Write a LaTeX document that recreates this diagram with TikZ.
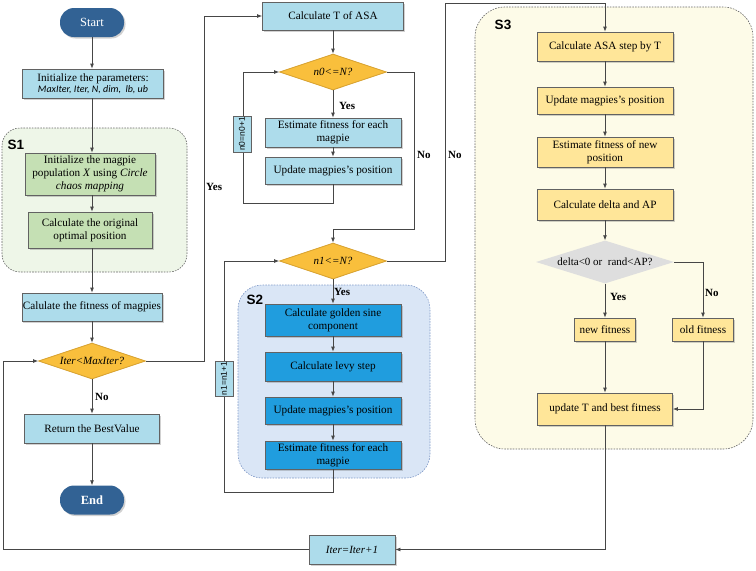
\documentclass[tikz,border=0pt]{standalone}
\usepackage{fontspec}
\setmainfont{Liberation Serif}
\setsansfont{Liberation Sans}
\newfontfamily\carl{Carlito}
\usetikzlibrary{arrows.meta,shapes.geometric,shadows}
\definecolor{termblue}{RGB}{50,98,148}
\definecolor{lblue}{RGB}{173,220,235}
\definecolor{lgreen}{RGB}{197,224,180}
\definecolor{sonebg}{RGB}{238,246,232}
\definecolor{orangef}{RGB}{249,191,60}
\definecolor{oranged}{RGB}{214,160,45}
\definecolor{stwobg}{RGB}{218,230,246}
\definecolor{stwod}{RGB}{130,155,200}
\definecolor{bblue}{RGB}{32,157,222}
\definecolor{yellowf}{RGB}{255,230,153}
\definecolor{sthreebg}{RGB}{253,251,232}
\definecolor{grayf}{RGB}{222,222,222}
\definecolor{linec}{RGB}{70,70,70}
\tikzset{
  shad/.style={drop shadow={shadow xshift=1.5pt,shadow yshift=-1.5pt,opacity=0.3,fill=black!60}},
  box/.style={rectangle,draw=linec!85,line width=0.8pt,align=center,inner sep=1pt,shad,
    font=\fontsize{11.2}{13}\selectfont},
  lbbox/.style={box,fill=lblue},
  grbox/.style={box,fill=lgreen},
  bbbox/.style={box,fill=bblue},
  ylbox/.style={box,fill=yellowf},
  term/.style={rectangle,rounded corners=14pt,fill=termblue,text=white,minimum width=64pt,
    minimum height=29pt,shad,font=\fontsize{12.5}{14}\selectfont},
  decis/.style={diamond,aspect=3,fill=orangef,draw=oranged,line width=0.8pt,inner sep=1pt,
    font=\fontsize{11}{12}\selectfont\itshape,minimum width=107pt,minimum height=36pt},
  region/.style={rounded corners=#1,dash pattern=on 1.6pt off 1.2pt,line width=0.6pt},
  arr/.style={draw=linec,line width=0.8pt,-{Latex[length=5pt,width=4pt]}},
  lnk/.style={draw=linec,line width=0.8pt},
  lab/.style={font=\fontsize{11}{12}\selectfont\bfseries,anchor=west,inner sep=0pt},
  slab/.style={font=\fontsize{13.5}{14}\selectfont\sffamily\bfseries,inner sep=0pt},
  cnt/.style={rectangle,draw=linec!85,line width=0.8pt,fill=lblue,rotate=90,inner sep=0.5pt,
    font=\fontsize{8.5}{9}\selectfont\sffamily}
}
\begin{document}
\begin{tikzpicture}[x=1pt,y=-1pt]
\useasboundingbox (0,0) rectangle (756,571);
% regions
\path[region=18pt,draw=black!60,fill=sonebg] (2,128) rectangle (187,272);
\path[region=24pt,draw=stwod,fill=stwobg] (238,285) rectangle (430,478);
\path[region=30pt,draw=black!60,fill=sthreebg] (475,7) rectangle (753,449);
\node[slab] (s1) at (16,145) {S1};
\node[slab] (s2) at (255,300) {S2};
\node[slab] (s3) at (503,25) {S3};
% left column
\node[term] (start) at (92,22.5) {Start};
\node[lbbox,minimum width=141pt,minimum height=29pt] (init) at (93,83.5)
  {Initialize the parameters:\\[-1.5pt]{\carl\itshape\fontsize{10}{11}\selectfont MaxIter, Iter, N, dim,~~lb, ub}};
\node[grbox,minimum width=130pt,minimum height=42pt] (magpie) at (90,174)
  {Initialize the magpie\\population \textit{X} using \textit{Circle}\\\textit{chaos mapping}};
\node[grbox,minimum width=124pt,minimum height=36pt] (orig) at (90,230)
  {Calculate the original\\optimal position};
\node[lbbox,minimum width=140pt,minimum height=28pt] (fit) at (92,307) {Calulate the fitness of magpies};
\node[decis] (diter) at (92,361) {Iter<MaxIter?};
\node[lbbox,minimum width=135pt,minimum height=29pt] (ret) at (92,428.5) {Return the BestValue};
\node[term,font=\fontsize{12.5}{14}\selectfont\bfseries] (end) at (92,500) {End};
\node[lbbox,minimum width=86pt,minimum height=29pt,font=\fontsize{11}{12}\selectfont\itshape] (iterb) at (352,549.5) {Iter=Iter+1};
% middle column
\node[lbbox,minimum width=141pt,minimum height=28pt] (calcT) at (333,16) {Calculate T of ASA};
\node[decis] (dn0) at (333,72) {n0<=N?};
\node[lbbox,minimum width=136pt,minimum height=29pt] (est0) at (333,132.5) {Estimate fitness for each\\magpie};
\node[lbbox,minimum width=136pt,minimum height=27pt] (upd0) at (333,170.5) {Update magpies's position};
\node[decis] (dn1) at (333,261) {n1<=N?};
\node[bbbox,minimum width=136pt,minimum height=32pt] (gs) at (333,320) {Calculate golden sine\\component};
\node[bbbox,minimum width=136pt,minimum height=29pt] (levy) at (333,366.5) {Calculate levy step};
\node[bbbox,minimum width=136pt,minimum height=27pt] (upd1) at (333,410.5) {Update magpies's position};
\node[bbbox,minimum width=136pt,minimum height=28pt] (est1) at (333,455) {Estimate fitness for each\\magpie};
% right column
\node[ylbox,minimum width=136pt,minimum height=29pt] (asa) at (605,46.5) {Calculate ASA step by T};
\node[ylbox,minimum width=136pt,minimum height=27pt] (upd2) at (605,100.5) {Update magpies's position};
\node[ylbox,minimum width=136pt,minimum height=30pt] (estn) at (605,152) {Estimate fitness of new\\position};
\node[ylbox,minimum width=136pt,minimum height=31pt] (dap) at (605,204.5) {Calculate delta and AP};
\node[diamond,aspect=3.2,fill=grayf,inner sep=1pt,minimum width=138pt,minimum height=43pt,
  font=\fontsize{11}{12}\selectfont] (dd) at (605,262) {delta<0 or~~rand<AP?};
\node[ylbox,minimum width=61pt,minimum height=23pt] (newf) at (605,329.5) {new fitness};
\node[ylbox,minimum width=61pt,minimum height=23pt] (oldf) at (703,329.5) {old fitness};
\node[ylbox,minimum width=135pt,minimum height=32pt] (updT) at (605,409) {update T and best fitness};
% connectors left
\draw[arr] (start) -- (start |- init.north);
\draw[arr] (start |- init.south) -- (start |- magpie.north);
\draw[arr] (start |- magpie.south) -- (start |- orig.north);
\draw[arr] (start |- orig.south) -- (fit.north);
\draw[arr] (fit) -- (diter);
\draw[arr] (diter) -- (ret);
\draw[arr] (ret) -- (end);
\draw[arr] (diter.east) -- (204,361) |- (calcT.west);
\draw[arr] (iterb.west) -- (3,549.5) |- (diter.west);
% middle
\draw[arr] (calcT) -- (dn0);
\draw[arr] (dn0) -- (est0);
\draw[arr] (est0) -- (upd0);
\draw[arr] (upd0.south) |- (243,203) |- (dn0.west);
\draw[arr] (dn0.east) -| (414,229) -| (dn1.north);
\draw[arr] (dn1) -- (gs);
\draw[arr] (gs) -- (levy);
\draw[arr] (levy) -- (upd1);
\draw[arr] (upd1) -- (est1);
\draw[arr] (est1.south) |- (224,492) |- (dn1.west);
\draw[arr] (dn1.east) -| (445,3) -| (asa.north);
% right
\draw[arr] (asa) -- (upd2);
\draw[arr] (upd2) -- (estn);
\draw[arr] (estn) -- (dap);
\draw[arr] (dap) -- (dd);
\draw[arr] (dd.east) -| (oldf.north);
\draw[arr] (dd.south) -- (newf.north);
\draw[arr] (newf) -- (updT);
\draw[arr] (oldf.south) |- (updT.east);
\draw[arr] (updT.south) |- (iterb.east);
% counters
\node[cnt,minimum width=36pt,minimum height=18pt] (c0) at (242,134) {n0=n0+1};
\node[cnt,minimum width=35pt,minimum height=18pt] (c1) at (224,378.5) {n1=n1+1};
% labels
\node[lab] (lno1) at (95,397) {No};
\node[lab] (lyes1) at (206,187) {Yes};
\node[lab] (lyes2) at (339,106) {Yes};
\node[lab] (lno2) at (417,155) {No};
\node[lab] (lyes3) at (334,292) {Yes};
\node[lab] (lno3) at (448,155) {No};
\node[lab] (lno4) at (705,293) {No};
\node[lab] (lyes4) at (610,297) {Yes};
\end{tikzpicture}
\end{document}
